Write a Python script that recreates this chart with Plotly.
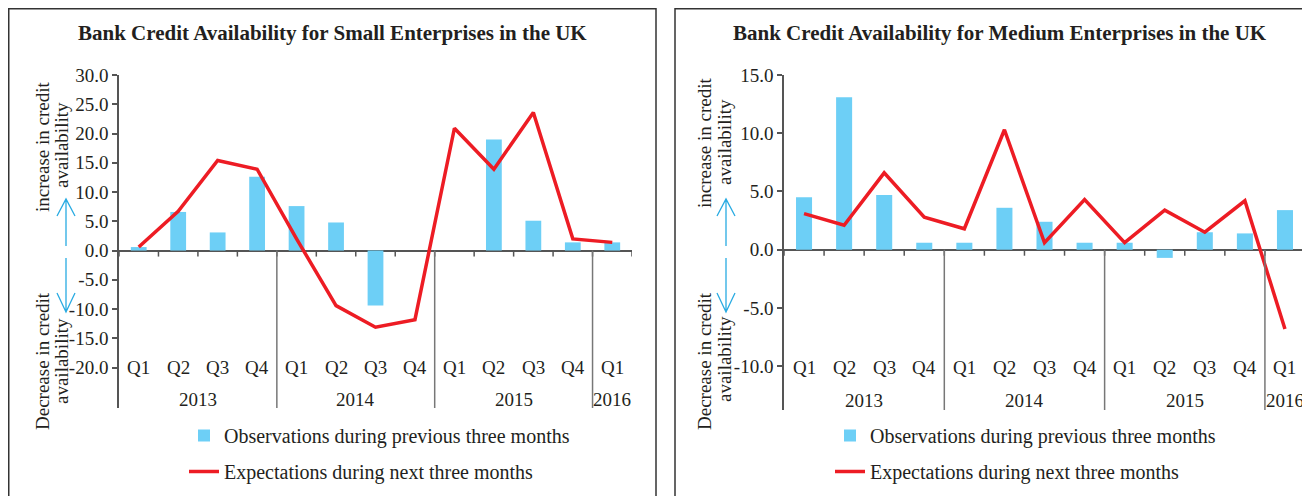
import plotly.graph_objects as go

# page body has an 8px default margin; the figure is sized to fit inside the 1310x496 window
OFF = 8
FW, FH = 1302, 488

quarters = ["Q1", "Q2", "Q3", "Q4", "Q1", "Q2", "Q3", "Q4", "Q1", "Q2", "Q3", "Q4", "Q1"]
years = ["2013", "2014", "2015", "2016"]
year_counts = [4, 4, 4, 1]

small_obs = [0.6, 6.6, 3.1, 12.6, 7.6, 4.8, -9.4, 0.0, 0.0, 19.0, 5.1, 1.4, 1.4]
small_exp = [0.6, 6.7, 15.4, 13.9, 2.0, -9.4, -13.1, -11.8, 20.9, 13.9, 23.6, 2.0, 1.4]
medium_obs = [4.5, 13.1, 4.7, 0.6, 0.6, 3.6, 2.4, 0.6, 0.6, -0.7, 1.5, 1.4, 3.4]
medium_exp = [3.1, 2.1, 6.6, 2.8, 1.8, 10.3, 0.6, 4.3, 0.6, 3.4, 1.5, 4.2, -6.8]

titles = ["Bank Credit Availability for Small Enterprises in the UK",
          "Bank Credit Availability for Medium Enterprises in the UK"]
obs_name = "Observations during previous three months"
exp_name = "Expectations during next three months"
up_label = ["increase in credit", "availability"]
down_label = ["Decrease in credit", "availability"]

small_ticks = [-20, -15, -10, -5, 0, 5, 10, 15, 20, 25, 30]
medium_ticks = [-10, -5, 0, 5, 10, 15]

FONT = "Liberation Serif"
TXT = "#231F20"
BLUE = "#6DCFF6"
RED = "#ED1C24"
AX = "#555555"
FS = 19


def px(x):
    return (x - OFF) / FW


def py(y):
    return 1 - (y - OFF) / FH


xs = list(range(len(quarters)))

fig = go.Figure()

panels = [
    dict(obs=small_obs, exp=small_exp, ticks=small_ticks, yr=[-26.9, 30],
         xd=[px(119), px(632)], yd=[py(408), py(75)], q_y=-20, yr_y=-25.5,
         legend="legend", title_x=332, side_x=(42, 61), up_y=(147, 145), dn_y=(361, 361),
         arr_x=66, border=(8.75, 656)),
    dict(obs=medium_obs, exp=medium_exp, ticks=medium_ticks, yr=[-13.76, 15],
         xd=[px(784), px(1305)], yd=[py(410), py(75)], q_y=-10.15, yr_y=-12.96,
         legend="legend2", title_x=1000, side_x=(704, 724), up_y=(143, 142), dn_y=(361, 359),
         arr_x=726, border=(675, 1340)),
]

shapes = []
annotations = []

for i, p in enumerate(panels):
    n = "" if i == 0 else str(i + 1)
    xa, ya = "x" + n, "y" + n
    fig.add_trace(go.Bar(x=xs, y=p["obs"], name=obs_name, marker=dict(color=BLUE, line=dict(width=0)),
                         width=0.4, xaxis=xa, yaxis=ya, legend=p["legend"], legendgroup="obs" + n,
                         showlegend=True))
    fig.add_trace(go.Scatter(x=xs, y=p["exp"], name=exp_name, mode="lines",
                             line=dict(color=RED, width=3.5), xaxis=xa, yaxis=ya,
                             legend=p["legend"], legendgroup="exp" + n, showlegend=True))
    fig.update_layout(**{
        "xaxis" + n: dict(domain=p["xd"], range=[-0.5, len(xs) - 0.5], showticklabels=False,
                          showgrid=False, zeroline=False, showline=False, anchor=ya, fixedrange=True),
        "yaxis" + n: dict(domain=p["yd"], range=p["yr"], tickvals=p["ticks"],
                          ticktext=[f"{v:.1f}" for v in p["ticks"]], showgrid=False,
                          zeroline=True, zerolinecolor=AX, zerolinewidth=1.5,
                          showline=True, linecolor=AX, linewidth=1.5, ticks="outside",
                          ticklen=5, tickcolor=AX, tickwidth=1.5, anchor=xa, automargin=False,
                          tickfont=dict(family=FONT, size=FS, color=TXT), fixedrange=True),
    })
    # boundary ticks on zero line
    for k in range(len(xs) + 1):
        shapes.append(dict(type="line", xref=xa, yref=ya, x0=k - 0.5, x1=k - 0.5,
                           ysizemode="pixel", yanchor=0, y0=0, y1=-6,
                           line=dict(color=AX, width=1.5)))
    # year labels and dividers
    pos = 0
    for yi, (yl, c) in enumerate(zip(years, year_counts)):
        annotations.append(dict(x=pos + (c - 1) / 2, y=p["yr_y"], xref=xa, yref=ya, text=yl,
                                showarrow=False, xanchor="center", yanchor="middle",
                                font=dict(family=FONT, size=FS, color=TXT)))
        pos += c
        if yi < len(years) - 1:
            shapes.append(dict(type="line", xref=xa, yref=ya, x0=pos - 0.5, x1=pos - 0.5,
                               y0=0, y1=p["yr"][0], line=dict(color="#777777", width=1.5)))
    for qi, q in enumerate(quarters):
        annotations.append(dict(x=qi, y=p["q_y"], xref=xa, yref=ya, text=q, showarrow=False,
                                xanchor="center", yanchor="middle",
                                font=dict(family=FONT, size=FS, color=TXT)))
    # title
    annotations.append(dict(x=px(p["title_x"]), y=py(33), xref="paper", yref="paper",
                            xanchor="center", yanchor="middle",
                            text="<b>" + titles[i] + "</b>", showarrow=False,
                            font=dict(family=FONT, size=21, color=TXT)))
    # side labels (one annotation per line)
    for lab, ys in ((up_label, p["up_y"]), (down_label, p["dn_y"])):
        for line, sx, yy in zip(lab, p["side_x"], ys):
            annotations.append(dict(x=px(sx), y=py(yy), xref="paper", yref="paper",
                                    xanchor="center", yanchor="middle",
                                    text=line, textangle=-90, showarrow=False,
                                    font=dict(family=FONT, size=FS, color=TXT)))
    # arrows
    a = p["arr_x"]
    up = (f"M{px(a)},{py(246)} L{px(a)},{py(199)} "
          f"M{px(a - 9)},{py(216)} L{px(a)},{py(199)} L{px(a + 9)},{py(216)}")
    dn = (f"M{px(a)},{py(258)} L{px(a)},{py(312)} "
          f"M{px(a - 9)},{py(293)} L{px(a)},{py(312)} L{px(a + 9)},{py(293)}")
    for path in (up, dn):
        shapes.append(dict(type="path", xref="paper", yref="paper", path=path,
                           line=dict(color="#29ABE2", width=1.3)))
    # panel border
    b0, b1 = p["border"]
    shapes.append(dict(type="rect", xref="paper", yref="paper", x0=px(b0), x1=px(b1),
                       y0=py(8.75), y1=py(530), line=dict(color="#333333", width=1.5),
                       fillcolor="rgba(0,0,0,0)", layer="below"))

legend_common = dict(bgcolor="rgba(0,0,0,0)", borderwidth=0, yanchor="top", xanchor="left",
                     font=dict(family=FONT, size=20, color=TXT), tracegroupgap=7,
                     orientation="v", itemclick=False, itemdoubleclick=False)

fig.update_layout(
    width=FW, height=FH,
    margin=dict(l=0, r=0, t=0, b=0, autoexpand=False),
    paper_bgcolor="white", plot_bgcolor="rgba(0,0,0,0)",
    showlegend=True,
    legend=dict(x=px(184), y=py(416), **legend_common),
    legend2=dict(x=px(830), y=py(416), **legend_common),
    shapes=shapes,
    annotations=annotations,
)

fig.write_html("out.html")
